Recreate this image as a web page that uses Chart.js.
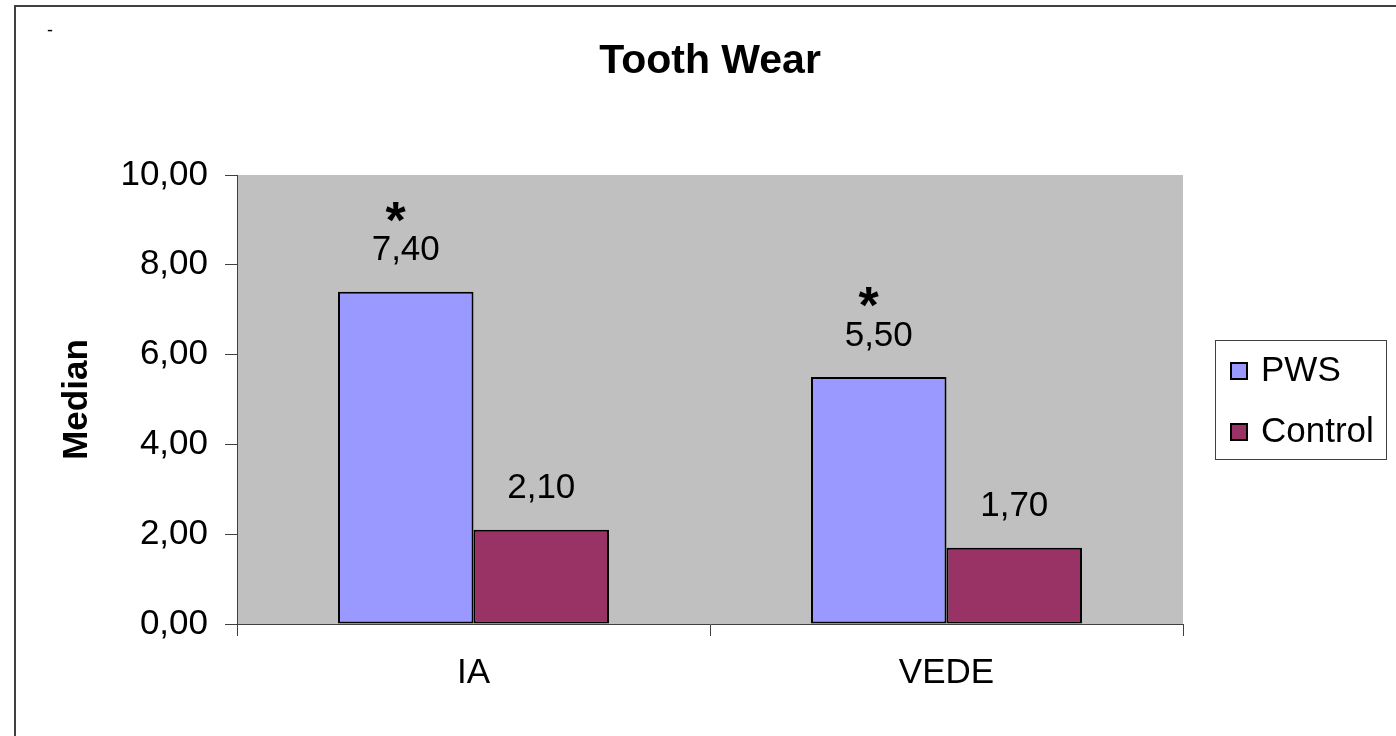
<!DOCTYPE html>
<html>
<head>
<meta charset="utf-8">
<script src="https://cdn.jsdelivr.net/npm/chart.js@4/dist/chart.umd.min.js"></script>
<style>
html,body{margin:0;padding:0;background:#fff;}
canvas{display:block;}
</style>
</head>
<body>
<canvas id="c" width="1396" height="736"></canvas>
<script>
const categories = ["IA", "VEDE"];
const pwsValues = [7.40, 5.50];
const controlValues = [2.10, 1.70];
const seriesNames = ["PWS", "Control"];
const significance = ["*", "*"];
const yTicks = [0, 2, 4, 6, 8, 10];
const chartTitle = "Tooth Wear";
const yTitle = "Median";

const FONT = "'Liberation Sans', Arial, sans-serif";
const fmt = v => v.toFixed(2).replace('.', ',');

const decor = {
  id: 'decor',
  beforeDraw(chart) {
    const ctx = chart.ctx, a = chart.chartArea;
    ctx.save();
    ctx.fillStyle = '#fff';
    ctx.fillRect(0, 0, chart.width, chart.height);
    // outer frame
    ctx.strokeStyle = '#404040';
    ctx.lineWidth = 2;
    ctx.strokeRect(15, 6, chart.width + 20, chart.height + 20);
    // stray dash
    ctx.fillStyle = '#000';
    ctx.font = '18px ' + FONT;
    ctx.textAlign = 'center';
    ctx.textBaseline = 'middle';
    ctx.fillText('-', 50, 31);
    // plot background
    ctx.fillStyle = '#C0C0C0';
    ctx.fillRect(a.left, a.top, a.right - a.left, a.bottom - a.top);
    ctx.restore();
  },
  afterDraw(chart) {
    const ctx = chart.ctx, a = chart.chartArea;
    ctx.save();
    ctx.fillStyle = '#000';
    ctx.textAlign = 'center';
    ctx.textBaseline = 'middle';
    // title
    ctx.font = 'bold 41px ' + FONT;
    ctx.fillText(chartTitle, (a.left + a.right) / 2, 62);
    // y title
    ctx.save();
    ctx.translate(77, (a.top + a.bottom) / 2);
    ctx.rotate(-Math.PI / 2);
    ctx.font = 'bold 35px ' + FONT;
    ctx.fillText(yTitle, 0, 0);
    ctx.restore();
    // value labels
    ctx.font = '35px ' + FONT;
    chart.data.datasets.forEach((ds, di) => {
      chart.getDatasetMeta(di).data.forEach((bar, i) => {
        ctx.fillText(fmt(ds.data[i]), bar.x, bar.y - 41);
      });
    });
    // significance markers
    ctx.font = 'bold 52px ' + FONT;
    chart.getDatasetMeta(0).data.forEach((bar, i) => {
      if (significance[i]) ctx.fillText(significance[i], bar.x - 10, bar.y - 68);
    });
    // legend
    const lx = 1215, ly = 340, lw = 171, lh = 119;
    ctx.strokeStyle = '#404040';
    ctx.lineWidth = 1;
    ctx.strokeRect(lx + 0.5, ly + 0.5, lw, lh);
    ctx.textAlign = 'left';
    ctx.font = '35px ' + FONT;
    chart.data.datasets.forEach((ds, di) => {
      const cy = ly + 31 + di * 61;
      ctx.fillStyle = ds.backgroundColor;
      ctx.fillRect(1231, cy - 8, 16, 16);
      ctx.strokeStyle = '#000';
      ctx.lineWidth = 2;
      ctx.strokeRect(1231, cy - 8, 16, 16);
      ctx.fillStyle = '#000';
      ctx.fillText(ds.label, 1261, cy);
    });
    ctx.restore();
  }
};

new Chart(document.getElementById('c'), {
  type: 'bar',
  data: {
    labels: categories,
    datasets: [
      { label: seriesNames[0], data: pwsValues, backgroundColor: '#9999FF', borderColor: '#000', borderWidth: 2, borderSkipped: false },
      { label: seriesNames[1], data: controlValues, backgroundColor: '#993366', borderColor: '#000', borderWidth: 2, borderSkipped: false }
    ]
  },
  options: {
    responsive: false,
    animation: false,
    devicePixelRatio: 1,
    layout: { padding: { left: 0, right: 213, top: 175, bottom: 0 } },
    datasets: { bar: { categoryPercentage: 0.573, barPercentage: 1 } },
    plugins: { legend: { display: false }, title: { display: false }, tooltip: { enabled: false } },
    scales: {
      x: {
        grid: { display: true, drawOnChartArea: false, drawTicks: true, tickLength: 12, color: '#404040', offset: true },
        border: { display: true, color: '#404040', width: 1 },
        ticks: { color: '#000', font: { family: FONT, size: 35 }, padding: 16 },
        afterFit(s) { s.height = 112; }
      },
      y: {
        min: 0, max: 10,
        afterBuildTicks(s) { s.ticks = yTicks.map(v => ({ value: v })); },
        grid: { display: true, drawOnChartArea: false, drawTicks: true, tickLength: 12, color: '#404040' },
        border: { display: true, color: '#404040', width: 1 },
        ticks: { color: '#000', font: { family: FONT, size: 35 }, padding: 17, callback: v => fmt(v) },
        afterFit(s) { s.width = 237; }
      }
    }
  },
  plugins: [decor]
});
</script>
</body>
</html>
